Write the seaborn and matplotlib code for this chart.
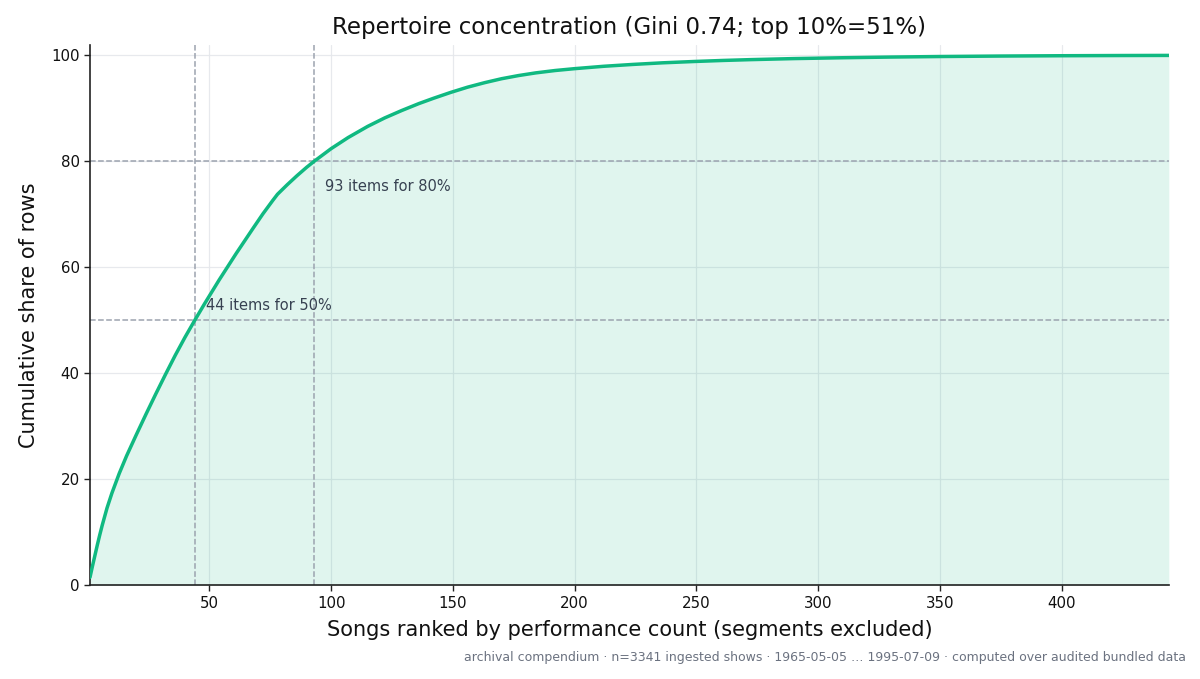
import matplotlib
matplotlib.use("Agg")
import matplotlib.pyplot as plt
import seaborn as sns
import pandas as pd

# Data (cumulative share of rows by song rank)
ranks = [1, 2, 3, 4, 5, 6, 8, 10, 13, 16, 20, 24, 28, 32, 36, 40, 44, 48,
         54, 61, 68, 72, 76, 78, 82, 86, 90, 93, 100, 107, 115, 122, 129, 136,
         142, 149, 156, 163, 170, 177, 184, 192, 200, 212, 224, 236, 249, 261,
         272, 290, 310, 330, 350, 375, 400, 425, 444]
cum_share = [1.5, 3.6, 5.6, 7.6, 9.5, 11.3, 14.6, 17.4, 21.1, 24.4, 28.4, 32.3,
             36.1, 39.8, 43.4, 46.8, 50.0, 53.1, 57.6, 62.6, 67.4, 70.1, 72.6,
             73.8, 75.6, 77.3, 78.9, 80.0, 82.4, 84.5, 86.6, 88.2, 89.6, 90.9,
             91.9, 93.0, 94.0, 94.85, 95.6, 96.2, 96.7, 97.15, 97.5, 97.95,
             98.3, 98.6, 98.85, 99.05, 99.2, 99.4, 99.56, 99.69, 99.79, 99.88,
             99.94, 99.98, 100.0]
n50, n80 = 44, 93
title = "Repertoire concentration (Gini 0.74; top 10%=51%)"
footer = ("archival compendium \u00b7 n=3341 ingested shows \u00b7 1965-05-05 \u2026 "
          "1995-07-09 \u00b7 computed over audited bundled data")

df = pd.DataFrame({"rank": ranks, "share": cum_share})

sns.set_theme(style="white")
plt.rcParams['font.family'] = ['DejaVu Sans']

fig = plt.figure(figsize=(12, 6.79), dpi=100)
ax = fig.add_axes([0.075, 0.138, 0.899, 0.796])

green = "#10b981"
ax.fill_between(df["rank"], df["share"], 0, color=green, alpha=0.13, linewidth=0, zorder=1)
sns.lineplot(data=df, x="rank", y="share", ax=ax, color=green, linewidth=2.5, zorder=3)

dash_col = "#9ca3af"
ax.axhline(50, color=dash_col, linestyle="--", linewidth=1.1, zorder=2)
ax.axhline(80, color=dash_col, linestyle="--", linewidth=1.1, zorder=2)
ax.axvline(n50, color=dash_col, linestyle="--", linewidth=1.1, zorder=2)
ax.axvline(n80, color=dash_col, linestyle="--", linewidth=1.1, zorder=2)

ax.text(n50 + 4.5, 51.3, f"{n50} items for 50%", fontsize=10.5, color="#374151", va="bottom", ha="left")
ax.text(n80 + 4.5, 75.2, f"{n80} items for 80%", fontsize=10.5, color="#374151", va="center", ha="left")

ax.set_xlim(1, 444)
ax.set_ylim(0, 102)
ax.set_xticks([50, 100, 150, 200, 250, 300, 350, 400])
ax.set_yticks([0, 20, 40, 60, 80, 100])
ax.grid(True, color="#e5e7eb", linewidth=0.9, alpha=0.9)
ax.tick_params(axis="both", labelsize=10.8, length=4, width=1, color="#222222",
               bottom=True, left=True, labelcolor="#111111")
for s in ["top", "right"]:
    ax.spines[s].set_visible(False)
for s in ["left", "bottom"]:
    ax.spines[s].set_color("#222222")
    ax.spines[s].set_linewidth(1.2)

ax.set_xlabel("Songs ranked by performance count (segments excluded)", fontsize=15, color="#111111", labelpad=7)
ax.set_ylabel("Cumulative share of rows", fontsize=15, color="#111111", labelpad=9)
ax.set_title(title, fontsize=16.5, color="#111111", pad=8)

fig.text(0.988, 0.031, footer, fontsize=9, color="#6b7280", ha="right", va="center")

fig.savefig("out.png", dpi=100)
